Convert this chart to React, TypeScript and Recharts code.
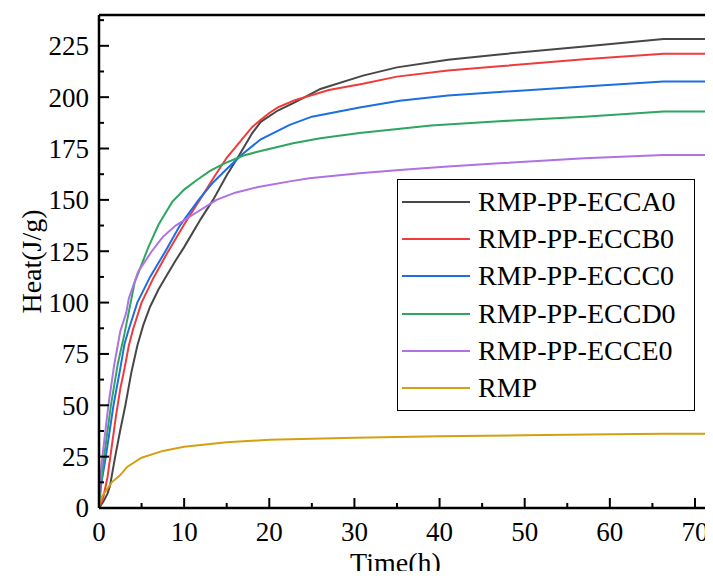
import { LineChart, Line, XAxis, YAxis, Legend, ReferenceLine } from "recharts";

/* ===== data ===== */
const timeA = [0, 0.5, 1, 1.3, 1.9, 2.5, 3.1, 3.8, 4.5, 5.2, 6, 7, 8, 9, 10, 12, 13.4, 15, 16.5, 18, 19, 21, 23, 26, 31, 35, 41, 47, 57, 66.3, 72];
const heatA = [0, 3, 7, 11, 25, 38, 50, 66, 79, 89, 98, 106.5, 113.5, 120.5, 127, 141, 150, 162, 172, 182.5, 188, 193.5, 197.5, 204, 210.5, 214.5, 218.2, 220.8, 224.7, 228.3, 228.3];

const timeB = [0, 0.5, 1, 1.5, 2, 2.5, 3, 3.5, 4, 5, 6.4, 8, 10, 12, 13.5, 15, 16.5, 18, 19, 20, 21, 23, 27, 31, 35, 41, 47, 57, 66.3, 72];
const heatB = [0, 5, 15, 30, 45, 58, 68, 79, 87, 100, 112, 124, 138, 151, 161, 170.5, 178, 185.5, 189, 192.3, 195, 198.5, 203.5, 206.5, 210, 213, 215, 218.5, 221.1, 221.1];

const timeC = [0, 0.2, 0.8, 1.7, 2.5, 3, 3.5, 4.5, 6, 7.8, 9.5, 11.7, 13.4, 15, 16.9, 19, 22.4, 25, 30.6, 35.3, 41, 47, 57, 66.3, 72];
const heatC = [0, 10, 25, 50, 68, 80, 87, 100, 112.5, 125, 137.5, 150, 158.5, 165, 172.5, 179.5, 186.5, 190.5, 195, 198.2, 200.8, 202.5, 205.2, 207.6, 207.6];

const timeD = [0, 0.2, 0.6, 1.4, 2.2, 3, 4.2, 5.8, 7, 8.6, 10, 11.5, 13, 14.6, 16.9, 18.5, 22.8, 26, 30.6, 39, 47, 57, 66.3, 72];
const heatD = [0, 10, 25, 50, 70, 85, 110, 127, 138, 149, 155, 159.7, 164, 167.5, 171.5, 173.3, 177.6, 180, 182.5, 186.2, 188.3, 190.5, 193, 193];

const timeE = [0, 0.1, 0.4, 1.1, 1.8, 2.5, 3.2, 3.5, 4.6, 6.2, 7.5, 9, 11.3, 13.8, 16, 18.7, 22.4, 24.7, 30.6, 35.3, 41, 47, 57, 66.3, 72];
const heatE = [0, 12, 25, 50, 70, 86, 95, 102, 115, 125, 132, 137.5, 143.5, 150, 153.5, 156.3, 159, 160.5, 163, 164.6, 166.3, 167.8, 170.3, 171.9, 171.9];

const timeRMP = [0, 0.4, 1.5, 2.5, 3.3, 5, 7.5, 10, 15, 20, 30, 40, 50, 60, 66.3, 72];
const heatRMP = [1, 6, 12.5, 16, 20, 24.5, 27.8, 29.8, 32, 33.2, 34.2, 34.9, 35.4, 35.9, 36.2, 36.2];

const seriesNames = ["RMP-PP-ECCA0", "RMP-PP-ECCB0", "RMP-PP-ECCC0", "RMP-PP-ECCD0", "RMP-PP-ECCE0", "RMP"];
const seriesColors = ["#474747", "#ef3b3b", "#1c6fe3", "#2ea560", "#b071e3", "#d4a012"];

const xTicks = [0, 5, 10, 15, 20, 25, 30, 35, 40, 45, 50, 55, 60, 65, 70];
const yTicks = [0, 12.5, 25, 37.5, 50, 62.5, 75, 87.5, 100, 112.5, 125, 137.5, 150, 162.5, 175, 187.5, 200, 212.5, 225, 237.5];

const toPoints = (t: number[], v: number[]) => t.map((x, i) => ({ time: x, heat: v[i] }));

const allSeries = [
  toPoints(timeA, heatA),
  toPoints(timeB, heatB),
  toPoints(timeC, heatC),
  toPoints(timeD, heatD),
  toPoints(timeE, heatE),
  toPoints(timeRMP, heatRMP),
];

const FONT = "'Liberation Serif', 'Times New Roman', Times, 'Noto Serif', FreeSerif, 'Nimbus Roman', 'DejaVu Serif', serif";

/* ===== ticks drawn inward, with minor marks ===== */
const XTick = ({ x, y, payload }: any) => {
  const major = payload.value % 10 === 0;
  return (
    <g>
      <line x1={x} x2={x} y1={y} y2={y - (major ? 10 : 5)} stroke="#000" strokeWidth={2} />
      {major && (
        <text x={x} y={y + 33} textAnchor="middle" fontSize={27} style={{ fontFamily: FONT }} fill="#000">
          {payload.value}
        </text>
      )}
    </g>
  );
};

const YTick = ({ x, y, payload }: any) => {
  const major = payload.value % 25 === 0;
  return (
    <g>
      <line x1={x} x2={x + (major ? 10 : 5)} y1={y} y2={y} stroke="#000" strokeWidth={2} />
      {major && (
        <text x={x - 10} y={y} dy="0.35em" textAnchor="end" fontSize={27} style={{ fontFamily: FONT }} fill="#000">
          {payload.value}
        </text>
      )}
    </g>
  );
};

const LegendBox = () => (
  <div
    style={{
      border: "1.5px solid #000",
      background: "#fff",
      width: 298,
      padding: "3px 0",
      fontFamily: FONT,
      fontSize: 28,
      boxSizing: "border-box",
      color: "#000",
    }}
  >
    {seriesNames.map((n, i) => (
      <div key={n} style={{ display: "flex", alignItems: "center", height: 37.3 }}>
        <span style={{ display: "inline-block", width: 68, height: 2, background: seriesColors[i], marginLeft: 4, marginRight: 8 }} />
        <span style={{ lineHeight: "28px" }}>{n}</span>
      </div>
    ))}
  </div>
);

const App = () => {
  return (
    <div style={{ margin: -8 }}>
      <LineChart width={713} height={579} margin={{ top: 15, right: 1, left: 0, bottom: 0 }} style={{ fontFamily: FONT }}>
        <XAxis
          dataKey="time"
          type="number"
          domain={[0, 72]}
          ticks={xTicks}
          interval={0}
          allowDataOverflow
          height={71}
          tickSize={0}
          tickMargin={0}
          tickLine={false}
          tick={<XTick />}
          axisLine={{ stroke: "#000", strokeWidth: 2.5 }}
          label={({ viewBox }: any) => (
            <text x={viewBox.x + viewBox.width / 2 - 10} y={viewBox.y + 64} textAnchor="middle" fontSize={28} style={{ fontFamily: FONT }} fill="#000">
              Time(h)
            </text>
          )}
        />
        <YAxis
          dataKey="heat"
          type="number"
          domain={[0, 240]}
          ticks={yTicks}
          interval={0}
          allowDataOverflow
          width={99}
          tickSize={0}
          tickMargin={0}
          tickLine={false}
          tick={<YTick />}
          axisLine={{ stroke: "#000", strokeWidth: 2.5 }}
          label={({ viewBox }: any) => (
            <text
              x={31}
              y={viewBox.y + viewBox.height / 2}
              transform={`rotate(-90, 31, ${viewBox.y + viewBox.height / 2})`}
              textAnchor="middle"
              dy="0.35em"
              fontSize={28}
              style={{ fontFamily: FONT }}
              fill="#000"
            >
              Heat(J/g)
            </text>
          )}
        />
        <ReferenceLine y={240} stroke="#000" strokeWidth={2.5} />
        <ReferenceLine x={72} stroke="#555" strokeWidth={1.5} />
        {allSeries.map((d, i) => (
          <Line
            key={seriesNames[i]}
            data={d}
            dataKey="heat"
            name={seriesNames[i]}
            type="linear"
            stroke={seriesColors[i]}
            strokeWidth={2}
            dot={false}
            isAnimationActive={false}
          />
        ))}
        <Legend
          layout="vertical"
          align="center"
          verticalAlign="middle"
          content={<LegendBox />}
          wrapperStyle={{ position: "absolute", left: 397, top: 179, width: 298 }}
        />
      </LineChart>
    </div>
  );
};

export default App;
